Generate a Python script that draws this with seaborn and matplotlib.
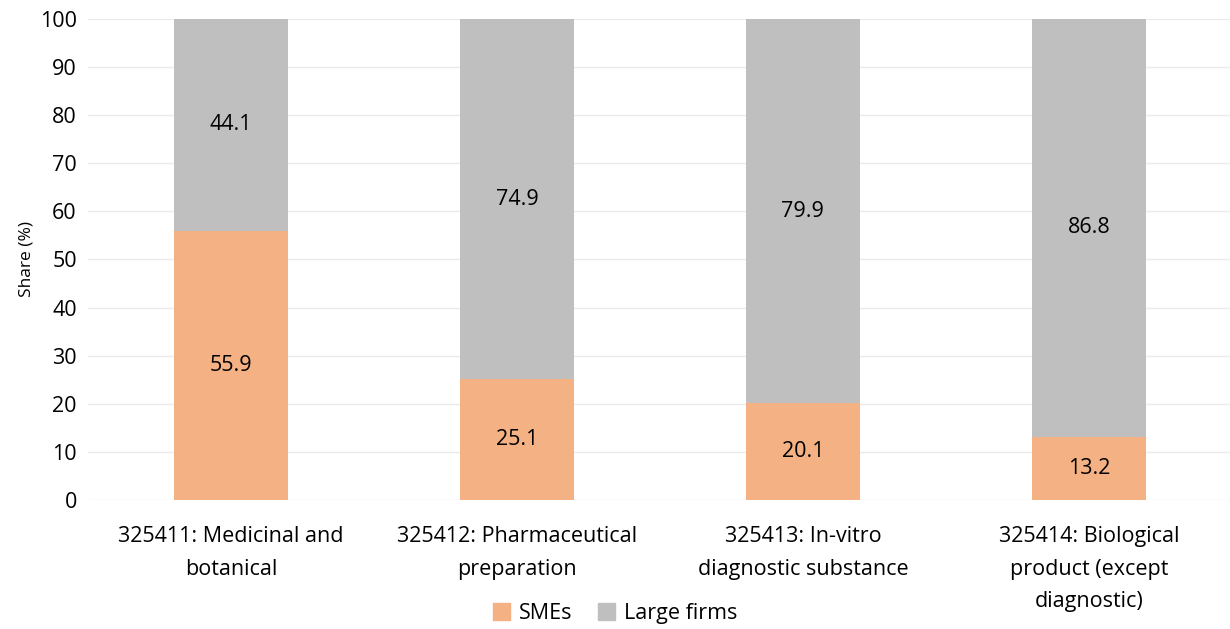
import matplotlib
matplotlib.use('Agg')
import matplotlib.pyplot as plt
import seaborn as sns
import pandas as pd
from matplotlib.patches import Patch

# datos
categories = ['325411: Medicinal and\nbotanical',
              '325412: Pharmaceutical\npreparation',
              '325413: In-vitro\ndiagnostic substance',
              '325414: Biological\nproduct (except\ndiagnostic)']
smes = [55.9, 25.1, 20.1, 13.2]
large_firms = [44.1, 74.9, 79.9, 86.8]

sme_color = '#F4B183'
large_color = '#BFBFBF'

sns.set_style('white')
plt.rcParams['font.family'] = ['Open Sans', 'DejaVu Sans']
plt.rcParams['text.color'] = 'black'
plt.rcParams['xtick.color'] = 'black'
plt.rcParams['ytick.color'] = 'black'
plt.rcParams['axes.labelcolor'] = 'black'

df = pd.DataFrame({'category': categories, 'SMEs': smes, 'Large firms': large_firms})
df['total'] = df['SMEs'] + df['Large firms']

fig = plt.figure(figsize=(12.3, 6.29), dpi=100)
ax = fig.add_axes([0.0715, 0.205, 0.93, 0.765])

# apilado: primero el total en gris, encima la parte de SMEs
sns.barplot(x='category', y='total', data=df, color=large_color, width=0.4,
            saturation=1, ax=ax, zorder=2, linewidth=0)
sns.barplot(x='category', y='SMEs', data=df, color=sme_color, width=0.4,
            saturation=1, ax=ax, zorder=3, linewidth=0)

for i, (s, l) in enumerate(zip(smes, large_firms)):
    ax.text(i, s / 2, f'{s:.1f}', ha='center', va='center', fontsize=15.5, zorder=4)
    ax.text(i, s + l / 2, f'{l:.1f}', ha='center', va='center', fontsize=15.5, zorder=4)

ax.set_ylim(0, 100)
ax.set_xlim(-0.5, 3.5)
ax.set_yticks(range(0, 101, 10))
ax.tick_params(axis='y', labelsize=15.5, length=0, pad=8)
ax.tick_params(axis='x', labelsize=15.5, length=0, pad=19)
for lbl in ax.get_xticklabels():
    lbl.set_linespacing(1.7)
ax.grid(axis='y', color='#EBEBEB', linewidth=1, zorder=0)
ax.set_axisbelow(True)
for sp in ax.spines.values():
    sp.set_visible(False)
ax.set_xlabel('')
ax.set_ylabel('Share (%)', fontsize=12.5, labelpad=4)

handles = [Patch(color=sme_color, label='SMEs'), Patch(color=large_color, label='Large firms')]
fig.legend(handles=handles, loc='center', bbox_to_anchor=(0.5, 0.025), ncol=2,
           frameon=False, fontsize=15.5, handlelength=0.8, handleheight=0.8,
           handletextpad=0.4, columnspacing=1.2)

fig.savefig('out.png', dpi=100)
